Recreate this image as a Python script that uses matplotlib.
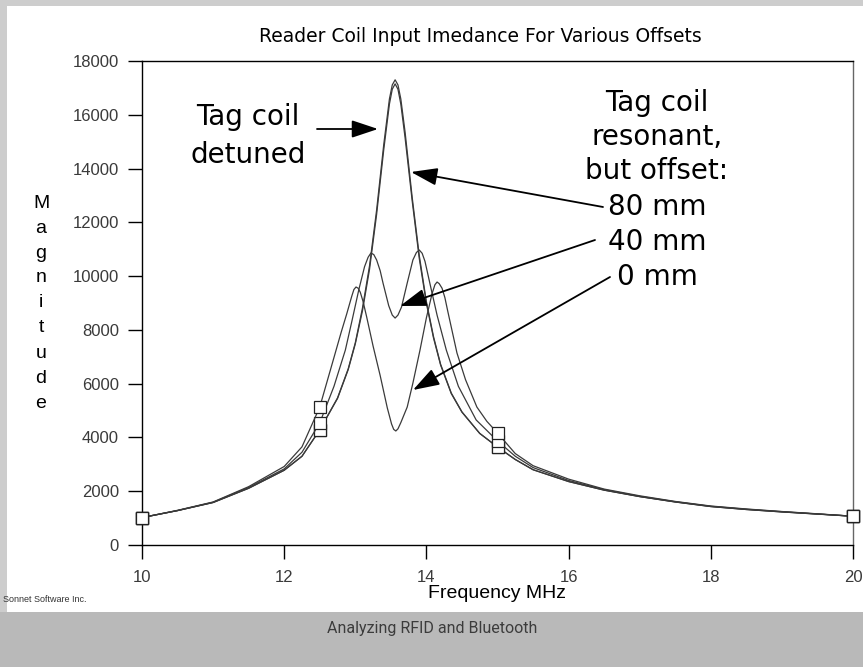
import matplotlib
matplotlib.use('Agg')
import matplotlib.pyplot as plt
from matplotlib.patches import Rectangle, FancyArrowPatch

# ---------------- data ----------------
freq_detuned = [10, 10.5, 11, 11.5, 12, 12.25, 12.5, 12.75, 12.9, 13.0, 13.1, 13.2, 13.3, 13.4,
                13.48, 13.52, 13.56, 13.6, 13.64, 13.7, 13.8, 13.9, 14.0, 14.1, 14.2, 14.35,
                14.5, 14.75, 15, 15.25, 15.5, 16, 16.5, 17, 17.5, 18, 18.5, 19, 19.5, 20]
mag_detuned = [1020, 1280, 1580, 2110, 2780, 3300, 4280, 5470, 6550, 7520, 8800, 10380, 12460, 14890,
               16590, 17110, 17300, 17110, 16590, 15360, 12930, 10760, 9050, 7750, 6720, 5650,
               4950, 4150, 3645, 3180, 2800, 2360, 2040, 1800, 1600, 1430, 1320, 1230, 1150, 1070]

freq_80mm = freq_detuned
mag_80mm = [1020, 1280, 1580, 2110, 2780, 3300, 4280, 5450, 6520, 7480, 8700, 10250, 12300, 14700,
            16400, 16950, 17150, 16950, 16400, 15150, 12800, 10650, 8980, 7700, 6690, 5630,
            4940, 4150, 3645, 3180, 2800, 2360, 2040, 1800, 1600, 1430, 1320, 1230, 1150, 1070]

freq_40mm = [10, 10.5, 11, 11.5, 12, 12.25, 12.5, 12.7, 12.86, 12.95, 13.05, 13.13, 13.18, 13.22,
             13.26, 13.3, 13.35, 13.39, 13.47, 13.52, 13.56, 13.6, 13.65, 13.73, 13.81, 13.86,
             13.9, 13.94, 13.98, 14.06, 14.15, 14.28, 14.45, 14.7, 15, 15.25, 15.5, 16, 16.5,
             17, 17.5, 18, 18.5, 19, 19.5, 20]
mag_40mm = [1020, 1280, 1590, 2140, 2830, 3450, 4540, 5900, 7250, 8300, 9500, 10350, 10700, 10860,
            10800, 10600, 10200, 9740, 8900, 8550, 8440, 8550, 8850, 9740, 10600, 10880,
            10970, 10850, 10550, 9600, 8550, 7250, 5900, 4650, 3870, 3300, 2880, 2400, 2060,
            1810, 1610, 1440, 1330, 1240, 1155, 1070]

freq_0mm = [10, 10.5, 11, 11.5, 12, 12.25, 12.5, 12.69, 12.8, 12.88, 12.95, 12.98, 13.01, 13.04,
            13.07, 13.11, 13.16, 13.25, 13.35, 13.45, 13.51, 13.54, 13.57, 13.6, 13.64, 13.73,
            13.81, 13.91, 14.0, 14.08, 14.12, 14.15, 14.18, 14.22, 14.26, 14.3, 14.43, 14.55,
            14.71, 14.85, 15, 15.25, 15.5, 16, 16.5, 17, 17.5, 18, 18.5, 19, 19.5, 20]
mag_0mm = [1020, 1290, 1600, 2170, 2920, 3650, 5130, 6880, 7900, 8600, 9250, 9500, 9595, 9550,
           9400, 9050, 8480, 7400, 6300, 5100, 4500, 4300, 4240, 4320, 4550, 5130,
           6020, 7250, 8450, 9350, 9680, 9780, 9720, 9550, 9200, 8700, 7140, 6150,
           5130, 4600, 4165, 3400, 2950, 2450, 2080, 1830, 1620, 1450, 1340, 1245, 1160, 1070]

marker_freqs = [10, 12.5, 15, 20]

x_ticks = [10, 12, 14, 16, 18, 20]
y_ticks = [0, 2000, 4000, 6000, 8000, 10000, 12000, 14000, 16000, 18000]

title = "Reader Coil Input Imedance For Various Offsets"

# ---------------- figure ----------------
W, H = 863, 667
fig = plt.figure(figsize=(W / 100, H / 100), dpi=100)
fig.patch.set_facecolor('#cdcdcd')

fig.patches.append(Rectangle((7 / W, 1 - 612 / H), (W - 7) / W, (612 - 6) / H,
                             transform=fig.transFigure, facecolor='white',
                             edgecolor='none', zorder=-10))
fig.patches.append(Rectangle((0, 0), 1, (H - 612) / H, transform=fig.transFigure,
                             facecolor='#b9b9b9', edgecolor='none', zorder=-10))

ax = fig.add_axes([142 / W, 1 - 545 / H, 711 / W, 484 / H], zorder=1)
ax.set_facecolor('white')
ax.set_xlim(10, 20)
ax.set_ylim(0, 18000)

def idx(fr):
    return [i for i, f in enumerate(fr) if f in marker_freqs]

for fr, mg in [(freq_detuned, mag_detuned), (freq_80mm, mag_80mm),
               (freq_40mm, mag_40mm), (freq_0mm, mag_0mm)]:
    ax.plot(fr, mg, color='#3a3a3a', lw=0.9, marker='s', markersize=8,
            markerfacecolor='white', markeredgecolor='#222222', markeredgewidth=0.9,
            markevery=idx(fr), clip_on=False, zorder=3)

ax.set_xticks(x_ticks)
ax.set_yticks(y_ticks)
ax.set_xticklabels([str(v) for v in x_ticks], fontsize=12, color='#3a3a3a',
                   family='Liberation Sans')
ax.set_yticklabels([str(v) for v in y_ticks], fontsize=12, color='#3a3a3a',
                   family='Liberation Sans')
ax.tick_params(axis='both', direction='out', length=10, width=1, color='black')
ax.tick_params(axis='y', pad=6.5)
ax.tick_params(axis='x', pad=8)
for s in ax.spines.values():
    s.set_linewidth(1.0)
    s.set_color('black')
ax.spines['right'].set_color('#666666')

# title and axis labels
fig.text(480 / W, 1 - 37 / H, title, ha='center', va='center', fontsize=13.5,
         family='DejaVu Sans', color='black')
fig.text(497 / W, 1 - 594 / H, 'Frequency MHz', ha='center', va='center', fontsize=14,
         family='Liberation Sans', color='black')
for i, ch in enumerate('Magnitude'):
    fig.text(41 / W, 1 - (203 + 25 * i) / H, ch, ha='center', va='center', fontsize=14,
             family='Liberation Sans', color='black')

fig.text(3 / W, 1 - 599 / H, 'Sonnet Software Inc.', ha='left', va='center', fontsize=6.5,
         family='Liberation Sans', color='#333333')
fig.text(432 / W, 1 - 628 / H, 'Analyzing RFID and Bluetooth', ha='center', va='center',
         fontsize=11.5, family='Roboto', color='#3c3c3c')

# annotations
def px(xp, yp):
    return (xp / W, 1 - yp / H)

txt_kw = dict(ha='center', va='center', fontsize=20, family='DejaVu Sans', color='black')
fig.text(248 / W, 1 - 117 / H, 'Tag coil', **txt_kw)
fig.text(248 / W, 1 - 155 / H, 'detuned', **txt_kw)
right_lines = ['Tag coil', 'resonant,', 'but offset:', '80 mm', '40 mm', '0 mm']
right_y = [103, 137, 171, 207, 242, 277]
for t, yy in zip(right_lines, right_y):
    fig.text(657 / W, 1 - yy / H, t, **txt_kw)

arrows = [((317, 129), (378, 129)),
          ((603, 207), (411, 172)),
          ((595, 240), (400, 306)),
          ((610, 277), (413, 390))]
for (x0, y0), (x1, y1) in arrows:
    fig.add_artist(FancyArrowPatch(
        px(x0, y0), px(x1, y1), transform=fig.transFigure,
        arrowstyle='-|>,head_length=0.9,head_width=0.3', mutation_scale=18,
        color='black', lw=1.3, zorder=5, shrinkA=0, shrinkB=0))

fig.savefig('out.png', dpi=100, facecolor=fig.get_facecolor())
